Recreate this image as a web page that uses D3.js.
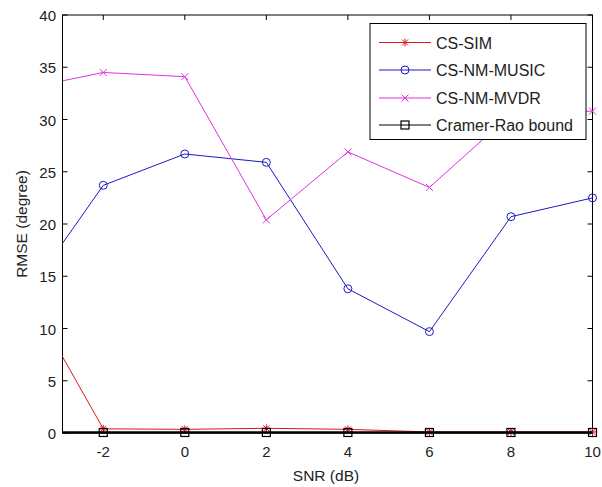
<!DOCTYPE html>
<html><head><meta charset="utf-8">
<script src="https://cdn.jsdelivr.net/npm/d3@7"></script>
<style>body{margin:0;background:#fff;}svg{display:block;font-family:"Liberation Sans",Arial,sans-serif;}</style>
</head><body><svg id="c" width="602" height="487"></svg>
<script>
const snr = [-4, -2, 0, 2, 4, 6, 8, 10];
const csSim = [14.2, 0.4, 0.35, 0.45, 0.35, 0.1, 0.1, 0.1];
const csMusic = [12.6, 23.7, 26.7, 25.9, 13.8, 9.7, 20.7, 22.5];
const csMvdr = [32.9, 34.5, 34.1, 20.4, 26.9, 23.5, 30.5, 30.8];
const crb = [0.05, 0.05, 0.05, 0.05, 0.05, 0.05, 0.05, 0.05];
const seriesNames = ["CS-SIM", "CS-NM-MUSIC", "CS-NM-MVDR", "Cramer-Rao bound"];
const xTicks = [-2, 0, 2, 4, 6, 8, 10];
const yTicks = [0, 5, 10, 15, 20, 25, 30, 35, 40];

const svg = d3.select("#c");
const L = 62.5, R = 592.5, T = 15, B = 433;
const x = d3.scaleLinear().domain([-3, 10]).range([L, R]);
const y = d3.scaleLinear().domain([0, 40]).range([B, T]);

svg.append("defs").append("clipPath").attr("id", "clip")
  .append("rect").attr("x", L).attr("y", T - 5).attr("width", R - L + 6).attr("height", B - T + 10);

const series = [
  {name: seriesNames[0], vals: csSim, color: "#e0141e", marker: "star", w: 1},
  {name: seriesNames[1], vals: csMusic, color: "#1a1ac0", marker: "circle", w: 1},
  {name: seriesNames[2], vals: csMvdr, color: "#e030e0", marker: "x", w: 1},
  {name: seriesNames[3], vals: crb, color: "#000", marker: "square", w: 2.6}
];

function drawMarker(g, type, cx, cy, color) {
  if (type === "circle") {
    g.append("circle").attr("cx", cx).attr("cy", cy).attr("r", 4)
      .attr("fill", "none").attr("stroke", color).attr("stroke-width", 1);
  } else if (type === "square") {
    g.append("rect").attr("x", cx - 4).attr("y", cy - 4).attr("width", 8).attr("height", 8)
      .attr("fill", "none").attr("stroke", color).attr("stroke-width", 1.2);
  } else if (type === "x") {
    const s = 3.5;
    g.append("path").attr("d", `M${cx-s},${cy-s}L${cx+s},${cy+s}M${cx-s},${cy+s}L${cx+s},${cy-s}`)
      .attr("stroke", color).attr("stroke-width", 1);
  } else if (type === "star") {
    const s = 4;
    g.append("path").attr("d", `M${cx-s},${cy}L${cx+s},${cy}M${cx},${cy-s}L${cx},${cy+s}M${cx-3},${cy-3}L${cx+3},${cy+3}M${cx-3},${cy+3}L${cx+3},${cy-3}`)
      .attr("stroke", color).attr("stroke-width", 1);
  }
}

// axes box
const axG = svg.append("g");
axG.append("rect").attr("x", L).attr("y", T).attr("width", R - L).attr("height", B - T)
  .attr("fill", "none").attr("stroke", "#000").attr("stroke-width", 1);

xTicks.forEach(t => {
  const px = x(t);
  axG.append("line").attr("x1", px).attr("x2", px).attr("y1", B).attr("y2", B - 5).attr("stroke", "#000");
  axG.append("line").attr("x1", px).attr("x2", px).attr("y1", T).attr("y2", T + 5).attr("stroke", "#000");
  axG.append("text").attr("x", px).attr("y", 457).attr("text-anchor", "middle")
    .attr("font-size", 15).attr("fill", "#222").text(t);
});
yTicks.forEach(t => {
  const py = y(t);
  axG.append("line").attr("x1", L).attr("x2", L + 5).attr("y1", py).attr("y2", py).attr("stroke", "#000");
  axG.append("line").attr("x1", R).attr("x2", R - 5).attr("y1", py).attr("y2", py).attr("stroke", "#000");
  axG.append("text").attr("x", 56).attr("y", py + 6).attr("text-anchor", "end")
    .attr("font-size", 15).attr("fill", "#222").text(t);
});
svg.append("text").attr("x", 326).attr("y", 481).attr("text-anchor", "middle")
  .attr("font-size", 15.5).attr("fill", "#222").text("SNR (dB)");
svg.append("text").attr("transform", "translate(27,224) rotate(-90)").attr("text-anchor", "middle")
  .attr("font-size", 15.5).attr("fill", "#222").text("RMSE (degree)");

const plot = svg.append("g").attr("clip-path", "url(#clip)");
const line = d3.line().x((d, i) => x(snr[i])).y(d => y(d));
series.forEach(s => {
  plot.append("path").attr("d", line(s.vals)).attr("fill", "none")
    .attr("stroke", s.color).attr("stroke-width", s.w);
  s.vals.forEach((v, i) => { if (snr[i] >= -3) drawMarker(plot, s.marker, x(snr[i]), y(v), s.color); });
});

// legend
const lg = svg.append("g");
lg.append("rect").attr("x", 370).attr("y", 23.5).attr("width", 216).attr("height", 116)
  .attr("fill", "#fff").attr("stroke", "#000").attr("stroke-width", 1);
const ly = [42.5, 70, 98, 125];
series.forEach((s, i) => {
  lg.append("line").attr("x1", 379).attr("x2", 431).attr("y1", ly[i]).attr("y2", ly[i])
    .attr("stroke", s.color).attr("stroke-width", 1);
  drawMarker(lg, s.marker, 405, ly[i], s.color);
  lg.append("text").attr("x", 436).attr("y", ly[i] + 6).attr("font-size", 16).attr("fill", "#222").text(s.name);
});
</script></body></html>
